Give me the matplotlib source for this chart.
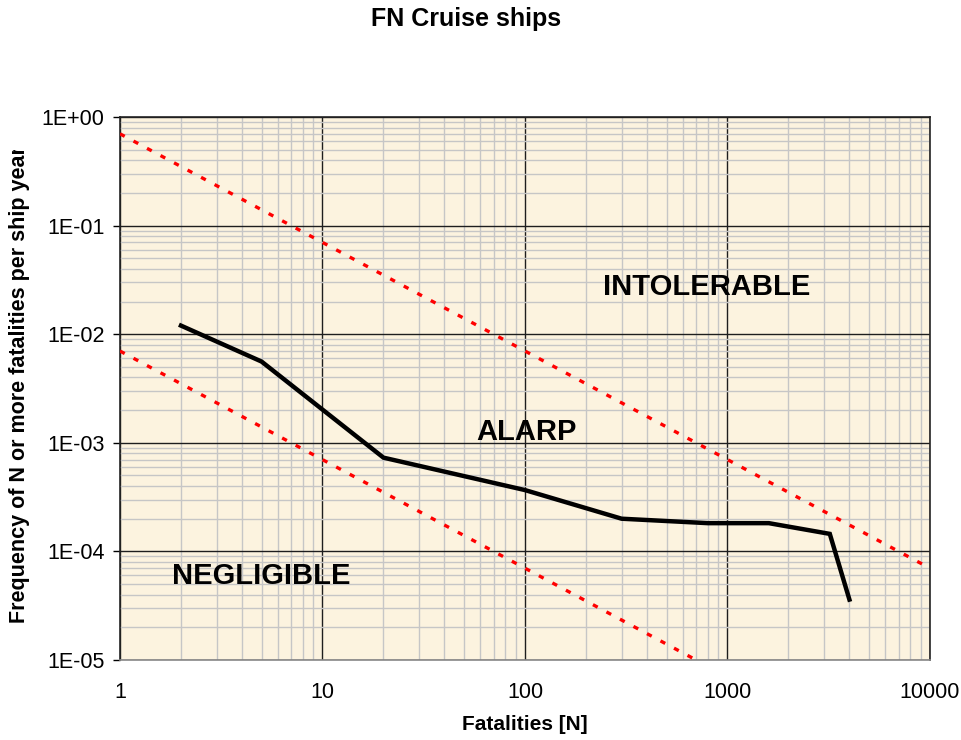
import matplotlib.pyplot as plt
from matplotlib.ticker import FixedLocator, LogLocator, NullFormatter, FuncFormatter
from matplotlib.transforms import Bbox

plt.rcParams['font.family'] = ['Liberation Sans', 'DejaVu Sans']

# FN curve for cruise ships
fatalities = [2, 5, 20, 100, 300, 800, 1600, 3200, 4000]
frequency = [1.2e-2, 5.6e-3, 7.3e-4, 3.67e-4, 2.0e-4, 1.82e-4, 1.82e-4, 1.45e-4, 3.6e-5]

# risk criterion lines (upper = intolerable limit, lower = negligible limit)
n_upper = [1, 10000]
f_upper = [7e-1, 7e-5]
n_lower = [1, 1000]
f_lower = [7e-3, 7e-6]

x_ticks = [1, 10, 100, 1000, 10000]
y_ticks = [1e-5, 1e-4, 1e-3, 1e-2, 1e-1, 1e0]

regions = ['INTOLERABLE', 'ALARP', 'NEGLIGIBLE']
region_x = [790, 102, 5.0]
region_y = [2.7e-2, 1.26e-3, 5.9e-5]

my_dpi = 100
fig = plt.figure(figsize=(962/my_dpi, 740/my_dpi), dpi=my_dpi)
ax = fig.add_axes([120/962, 1-660/740, 810/962, 543/740])
ax.set_facecolor('#fcf3df')

ax.set_xscale('log')
ax.set_yscale('log')
ax.set_xlim(1, 10000)
ax.set_ylim(1e-5, 1)

ax.xaxis.set_major_locator(FixedLocator(x_ticks))
ax.yaxis.set_major_locator(FixedLocator(y_ticks))
ax.xaxis.set_minor_locator(LogLocator(base=10, subs=range(2, 10), numticks=20))
ax.yaxis.set_minor_locator(LogLocator(base=10, subs=range(2, 10), numticks=20))
ax.xaxis.set_minor_formatter(NullFormatter())
ax.yaxis.set_minor_formatter(NullFormatter())
ax.xaxis.set_major_formatter(FuncFormatter(lambda v, p: '%d' % v))
ax.yaxis.set_major_formatter(FuncFormatter(lambda v, p: '%.0E' % v))

ax.grid(True, which='minor', color='#c6c6c6', lw=1.0, zorder=0)
ax.grid(True, which='major', color='#1e1e1e', lw=1.0, zorder=0)
ax.set_axisbelow(True)

ax.tick_params(axis='y', which='major', direction='out', length=5, width=1, pad=6, labelsize=15.5)
ax.tick_params(axis='x', which='major', length=0, pad=16, labelsize=15.5)
ax.tick_params(which='minor', length=0)

for side in ['left', 'top', 'right']:
    ax.spines[side].set_color('#222222')
ax.spines['bottom'].set_color('#888888')
for s in ax.spines.values():
    s.set_linewidth(1.2)

ax.plot(n_upper, f_upper, color='#ff0000', lw=2.4, linestyle=(0, (1.6, 3.0)), zorder=3)
ax.plot(n_lower, f_lower, color='#ff0000', lw=2.4, linestyle=(0, (1.6, 3.0)), zorder=3)
ax.plot(fatalities, frequency, color='black', lw=3.2, solid_joinstyle='miter', zorder=4)

for name, x, y in zip(regions, region_x, region_y):
    ax.text(x, y, name, ha='center', va='center', fontsize=21, fontweight='bold', zorder=5)

fig.text(466/962, 1-19/740, 'FN Cruise ships', ha='center', va='center', fontsize=18, fontweight='bold')
fig.text(525/962, 1-725/740, 'Fatalities [N]', ha='center', va='center', fontsize=15, fontweight='bold')

ylab = fig.text(20/962, 1-385/740, 'Frequency of N or more fatalities per ship year',
                rotation=90, ha='center', va='center', fontsize=15.5, fontweight='bold')
# the axis title box is cut off near the top
ylab.set_clip_box(Bbox.from_extents(0, 0, 962, 740-150))
ylab.set_clip_on(True)

plt.savefig('out.png', dpi=my_dpi)
